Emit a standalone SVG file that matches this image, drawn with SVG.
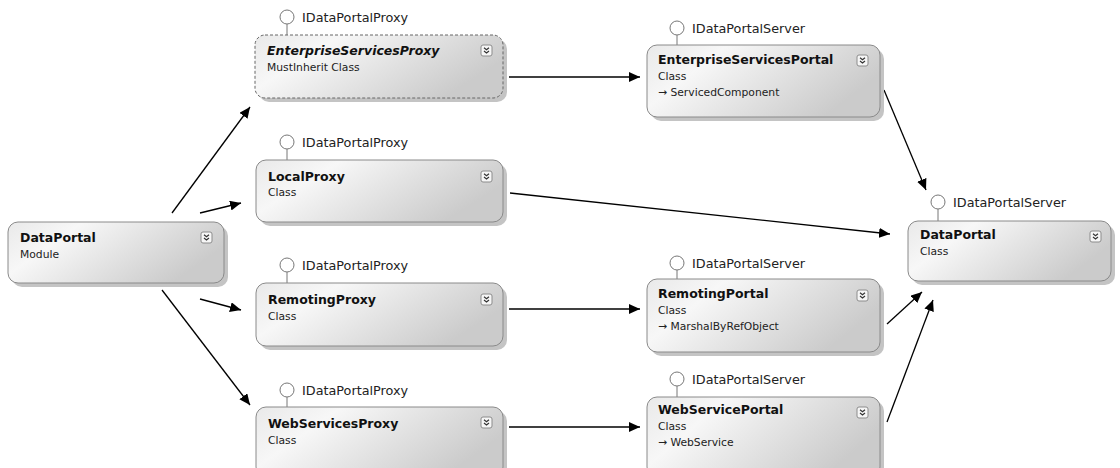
<svg xmlns="http://www.w3.org/2000/svg" xmlns:xlink="http://www.w3.org/1999/xlink" width="1120" height="468" viewBox="0 0 1120 468">
<defs>
<linearGradient id="fill" x1="0" y1="0" x2="1" y2="0.4">
<stop offset="0" stop-color="#e9e9e9"/>
<stop offset="0.3" stop-color="#f7f7f7"/>
<stop offset="1" stop-color="#cbcbcb"/>
</linearGradient>
<marker id="arr" markerUnits="userSpaceOnUse" markerWidth="12" markerHeight="10" refX="11" refY="5" orient="auto">
<path d="M0,0 L11,5 L0,10 Z" fill="#000"/>
</marker>
<g id="chev">
<rect x="0" y="0" width="11" height="11" rx="2" fill="#f6f6f6" stroke="#8c8c8c" stroke-width="1"/>
<polyline points="3,2.8 5.5,4.8 8,2.8" fill="none" stroke="#333" stroke-width="1.2"/>
<polyline points="3,6 5.5,8 8,6" fill="none" stroke="#333" stroke-width="1.2"/>
</g>
</defs>
<style>
.shadow{fill:#c4c4c4;}
.box{fill:url(#fill);stroke:#8a8a8a;stroke-width:1;}
.dash{stroke-dasharray:3 2;stroke:#666;}
.lolly{fill:#fff;stroke:#777;stroke-width:1;}
.stem{stroke:#777;stroke-width:1;}
.title{font-family:"DejaVu Sans",sans-serif;font-weight:bold;font-size:12.5px;fill:#111;}
.ital{font-style:italic;}
.sub{font-family:"DejaVu Sans",sans-serif;font-size:10.75px;fill:#222;}
.lbl{font-family:"DejaVu Sans",sans-serif;font-size:12.8px;fill:#222;}
.conn{stroke:#000;stroke-width:1.3;fill:none;marker-end:url(#arr);}
</style>
<rect width="1120" height="468" fill="#fff"/>

<g id="connectors">
<line class="conn" x1="172" y1="213" x2="250" y2="107"/>
<line class="conn" x1="200" y1="213" x2="241" y2="203"/>
<line class="conn" x1="200" y1="299" x2="241" y2="310"/>
<line class="conn" x1="162" y1="290" x2="250" y2="405"/>
<line class="conn" x1="509" y1="77" x2="640" y2="77"/>
<line class="conn" x1="510" y1="193" x2="890" y2="234"/>
<line class="conn" x1="509" y1="309" x2="640" y2="309"/>
<line class="conn" x1="509" y1="427" x2="640" y2="427"/>
<line class="conn" x1="884" y1="90" x2="926" y2="190"/>
<line class="conn" x1="887" y1="324" x2="922" y2="292"/>
<line class="conn" x1="887" y1="422" x2="933" y2="300"/>
</g>

<g id="node-dataportal-module">
<rect class="shadow" x="12" y="226" width="216" height="61" rx="10"/>
<rect class="box" x="8" y="222" width="216" height="61" rx="10"/>
<text class="title" x="20" y="242">DataPortal</text>
<text class="sub" x="20" y="258">Module</text>
<use xlink:href="#chev" x="201" y="232"/>
</g>

<g id="node-enterpriseservicesproxy">
<line class="stem" x1="287" y1="24" x2="287" y2="35"/>
<circle class="lolly" cx="287" cy="17" r="7"/>
<text class="lbl" x="302" y="22">IDataPortalProxy</text>
<rect class="shadow" x="259" y="39" width="248" height="63" rx="10"/>
<rect class="box dash" x="255" y="35" width="248" height="63" rx="10"/>
<text class="title ital" x="267" y="55">EnterpriseServicesProxy</text>
<text class="sub" x="267" y="71">MustInherit Class</text>
<use xlink:href="#chev" x="481" y="45"/>
</g>

<g id="node-localproxy">
<line class="stem" x1="287" y1="149" x2="287" y2="160"/>
<circle class="lolly" cx="287" cy="142" r="7"/>
<text class="lbl" x="302" y="147">IDataPortalProxy</text>
<rect class="shadow" x="260" y="164" width="247" height="62" rx="10"/>
<rect class="box" x="256" y="160" width="247" height="62" rx="10"/>
<text class="title" x="268" y="181">LocalProxy</text>
<text class="sub" x="268" y="196">Class</text>
<use xlink:href="#chev" x="481" y="171"/>
</g>

<g id="node-remotingproxy">
<line class="stem" x1="287" y1="272" x2="287" y2="283"/>
<circle class="lolly" cx="287" cy="265" r="7"/>
<text class="lbl" x="302" y="270">IDataPortalProxy</text>
<rect class="shadow" x="260" y="287" width="247" height="63" rx="10"/>
<rect class="box" x="256" y="283" width="247" height="63" rx="10"/>
<text class="title" x="268" y="304">RemotingProxy</text>
<text class="sub" x="268" y="320">Class</text>
<use xlink:href="#chev" x="481" y="294"/>
</g>

<g id="node-webservicesproxy">
<line class="stem" x1="287" y1="397" x2="287" y2="407"/>
<circle class="lolly" cx="287" cy="390" r="7"/>
<text class="lbl" x="302" y="395">IDataPortalProxy</text>
<rect class="shadow" x="260" y="411" width="247" height="70" rx="10"/>
<rect class="box" x="256" y="407" width="247" height="70" rx="10"/>
<text class="title" x="268" y="428">WebServicesProxy</text>
<text class="sub" x="268" y="444">Class</text>
<use xlink:href="#chev" x="481" y="417"/>
</g>

<g id="node-enterpriseservicesportal">
<line class="stem" x1="677" y1="35" x2="677" y2="45"/>
<circle class="lolly" cx="677" cy="28" r="7"/>
<text class="lbl" x="692" y="33">IDataPortalServer</text>
<rect class="shadow" x="651" y="49" width="233" height="72" rx="10"/>
<rect class="box" x="647" y="45" width="233" height="72" rx="10"/>
<text class="title" x="658" y="64">EnterpriseServicesPortal</text>
<text class="sub" x="658" y="80">Class</text>
<text class="sub" x="658" y="96">→ ServicedComponent</text>
<use xlink:href="#chev" x="857" y="55"/>
</g>

<g id="node-remotingportal">
<line class="stem" x1="677" y1="270" x2="677" y2="279"/>
<circle class="lolly" cx="677" cy="263" r="7"/>
<text class="lbl" x="692" y="268">IDataPortalServer</text>
<rect class="shadow" x="651" y="283" width="233" height="73" rx="10"/>
<rect class="box" x="647" y="279" width="233" height="73" rx="10"/>
<text class="title" x="658" y="298">RemotingPortal</text>
<text class="sub" x="658" y="314">Class</text>
<text class="sub" x="658" y="330">→ MarshalByRefObject</text>
<use xlink:href="#chev" x="857" y="290"/>
</g>

<g id="node-webserviceportal">
<line class="stem" x1="677" y1="386" x2="677" y2="397"/>
<circle class="lolly" cx="677" cy="379" r="7"/>
<text class="lbl" x="692" y="384">IDataPortalServer</text>
<rect class="shadow" x="651" y="401" width="233" height="80" rx="10"/>
<rect class="box" x="647" y="397" width="233" height="80" rx="10"/>
<text class="title" x="658" y="414">WebServicePortal</text>
<text class="sub" x="658" y="430">Class</text>
<text class="sub" x="658" y="446">→ WebService</text>
<use xlink:href="#chev" x="857" y="407"/>
</g>

<g id="node-dataportal-class">
<line class="stem" x1="938" y1="209" x2="938" y2="221"/>
<circle class="lolly" cx="938" cy="202" r="7"/>
<text class="lbl" x="953" y="207">IDataPortalServer</text>
<rect class="shadow" x="912" y="225" width="203" height="60" rx="10"/>
<rect class="box" x="908" y="221" width="203" height="60" rx="10"/>
<text class="title" x="920" y="239">DataPortal</text>
<text class="sub" x="920" y="255">Class</text>
<use xlink:href="#chev" x="1090" y="231"/>
</g>
</svg>
